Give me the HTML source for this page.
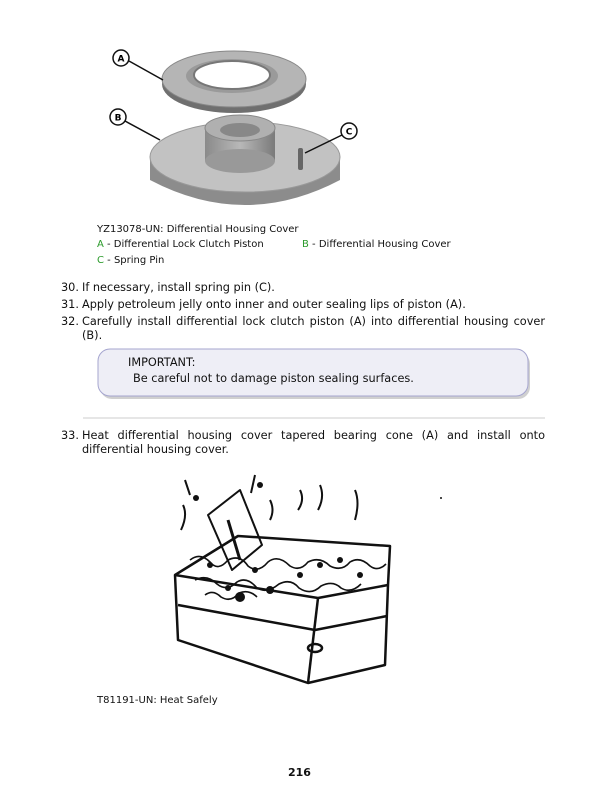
<!DOCTYPE html>
<html><head><meta charset="utf-8"><style>
body{margin:0;background:#fff;width:600px;height:806px;position:relative;font-family:"DejaVu Sans","Liberation Sans",sans-serif;color:#111;overflow:hidden}
.t{position:absolute;white-space:nowrap}
.c{font-size:10px}
.l{font-size:11.3px}
.g{color:#2a9a2a}
.j{position:absolute;left:82px;width:463px;font-size:11.3px;text-align:justify;text-align-last:justify;white-space:nowrap}
</style></head><body>
<svg width="600" height="806" style="position:absolute;left:0;top:0">
<defs>
<linearGradient id="gr" x1="0" x2="1"><stop offset="0" stop-color="#8a8a8a"/><stop offset=".5" stop-color="#b8b8b8"/><stop offset="1" stop-color="#7a7a7a"/></linearGradient>
</defs>
<ellipse cx="234" cy="84" rx="72" ry="29" fill="#6f6f6f"/>
<ellipse cx="234" cy="79" rx="72" ry="28" fill="#b5b5b5" stroke="#888"/>
<ellipse cx="232" cy="76" rx="46" ry="17" fill="#9a9a9a"/>
<ellipse cx="232" cy="75" rx="38" ry="14" fill="#fff" stroke="#777" stroke-width="2"/>
<path d="M150 158 L150 180 Q245 230 340 180 L340 158 Z" fill="#8c8c8c"/>
<ellipse cx="245" cy="157" rx="95" ry="35" fill="#c2c2c2" stroke="#999"/>
<rect x="205" y="128" width="70" height="33" fill="url(#gr)"/>
<ellipse cx="240" cy="161" rx="35" ry="12" fill="#999"/>
<ellipse cx="240" cy="128" rx="35" ry="13" fill="#b0b0b0" stroke="#888"/>
<ellipse cx="240" cy="130" rx="20" ry="7" fill="#888"/>
<rect x="298" y="148" width="5" height="22" rx="2" fill="#666"/>
<g fill="#fff" stroke="#111" stroke-width="1.5">
<circle cx="121" cy="58" r="8"/><circle cx="118" cy="117" r="8"/><circle cx="349" cy="131" r="8"/></g>
<g stroke="#111" stroke-width="1.5"><line x1="129" y1="61" x2="163" y2="80"/><line x1="125" y1="121" x2="160" y2="140"/><line x1="342" y1="135" x2="305" y2="153"/></g>
<g font-family="DejaVu Sans,sans-serif" font-size="9" font-weight="bold" text-anchor="middle"><text x="121" y="61.5">A</text><text x="118" y="120.5">B</text><text x="349" y="134.5">C</text></g>
<rect x="100" y="352" width="430" height="47" rx="12" fill="#777" opacity=".35"/>
<rect x="98" y="349" width="430" height="47" rx="12" fill="#eeeef6" stroke="#a5a5cf"/>
<line x1="83" y1="418" x2="545" y2="418" stroke="#ccc"/>
<g fill="none" stroke="#111" stroke-width="2.5" stroke-linejoin="round">
<path d="M175 575 L238 536 L390 546 L388 585 L385 665 L308 683 L178 640 Z"/>
<path d="M175 575 L318 598 L388 585"/>
<path d="M318 598 L308 683"/>
<path d="M178 605 L315 630 L387 616"/>
<path d="M208 515 L240 490 L262 545 L232 570 Z" stroke-width="2"/>
<path d="M228 520 L240 560" stroke-width="3"/>
<ellipse cx="315" cy="648" rx="7" ry="4"/>
<path d="M185 480 l5 15 M255 475 l-4 18 M300 490 q5 10 -2 20 M320 485 q5 12 -2 25 M355 490 q5 12 0 30 M183 505 q5 10 -2 25 M270 500 q5 10 0 20" stroke-width="2"/>
</g>
<g fill="none" stroke="#111" stroke-width="1.6">
<path d="M190 560 q10 -8 20 2 q8 10 18 -2 q12 -6 20 6 q10 8 20 -4 q10 -8 22 4 q10 6 18 -4 q12 -6 22 4 q12 6 20 -4 q10 -6 20 4 q8 6 16 -2"/>
<path d="M195 580 q12 -6 22 4 q10 8 20 -2 q10 -6 20 6 q10 6 22 -4 q12 -6 20 4 q12 8 22 -2 q12 -6 20 2 q10 6 20 -4"/>
<path d="M205 595 q8 -6 16 2 q10 6 18 -4 q10 -4 18 4"/>
</g>
<g fill="#111"><circle cx="196" cy="498" r="3"/><circle cx="260" cy="485" r="3"/><circle cx="240" cy="597" r="5"/><circle cx="270" cy="590" r="4"/><circle cx="300" cy="575" r="3"/><circle cx="210" cy="565" r="3"/><circle cx="340" cy="560" r="3"/><circle cx="228" cy="588" r="3"/><circle cx="255" cy="570" r="3"/><circle cx="320" cy="565" r="3"/><circle cx="360" cy="575" r="3"/><circle cx="441" cy="498" r="1"/></g>
</svg>
<div class="t c" style="left:97px;top:224px">YZ13078-UN: Differential Housing Cover</div>
<div class="t c" style="left:97px;top:239px"><span class="g">A</span> - Differential Lock Clutch Piston</div>
<div class="t c" style="left:302px;top:239px"><span class="g">B</span> - Differential Housing Cover</div>
<div class="t c" style="left:97px;top:255px"><span class="g">C</span> - Spring Pin</div>
<div class="t l" style="left:61px;top:281px">30.</div><div class="t l" style="left:82px;top:281px">If necessary, install spring pin (C).</div>
<div class="t l" style="left:61px;top:298px">31.</div><div class="t l" style="left:82px;top:298px">Apply petroleum jelly onto inner and outer sealing lips of piston (A).</div>
<div class="t l" style="left:61px;top:315px">32.</div><div class="j" style="top:315px">Carefully install differential lock clutch piston (A) into differential housing cover</div>
<div class="t l" style="left:82px;top:329px">(B).</div>
<div class="t l" style="left:128px;top:356px">IMPORTANT:</div>
<div class="t l" style="left:133px;top:372px">Be careful not to damage piston sealing surfaces.</div>
<div class="t l" style="left:61px;top:429px">33.</div><div class="j" style="top:429px">Heat differential housing cover tapered bearing cone (A) and install onto</div>
<div class="t l" style="left:82px;top:443px">differential housing cover.</div>
<div class="t c" style="left:97px;top:695px">T81191-UN: Heat Safely</div>
<div class="t" style="left:288px;top:766px;font-size:11px;font-weight:bold">216</div>
</body></html>
